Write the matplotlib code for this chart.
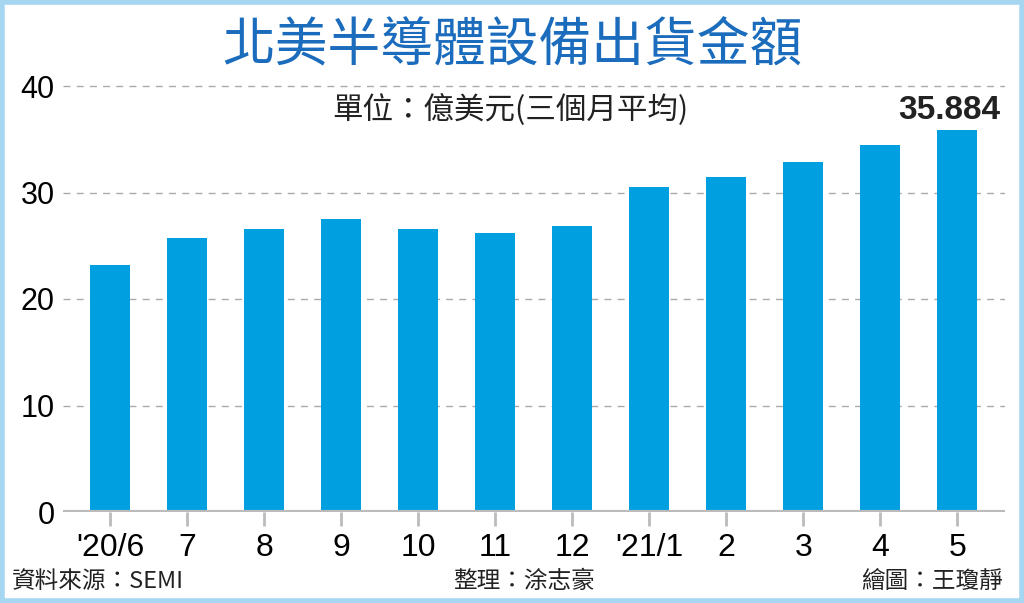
import matplotlib.pyplot as plt
from matplotlib.patches import Rectangle

# 資料
months = ["'20/6", "7", "8", "9", "10", "11", "12", "'21/1", "2", "3", "4", "5"]
values = [23.2, 25.7, 26.6, 27.5, 26.6, 26.2, 26.9, 30.5, 31.5, 32.9, 34.5, 35.884]
yticks = [0, 10, 20, 30, 40]

cjk = ['Noto Sans CJK TC', 'DejaVu Sans']
latin = ['Liberation Sans', 'DejaVu Sans']

bar_color = '#00a0e0'
title_color = '#1b6cbc'

fig = plt.figure(figsize=(10.24, 6.03), dpi=100)
fig.patch.set_facecolor('white')
ax = fig.add_axes([63 / 1024, 1 - 512 / 603, (1005 - 63) / 1024, (512 - 75.35) / 603])

x = list(range(len(months)))
ax.bar(x, values, width=0.52, color=bar_color, zorder=3)
ax.set_xlim(-0.61, 11.62)
ax.set_ylim(0, 41)

for s in ax.spines.values():
    s.set_visible(False)
ax.axhline(0, color='#bbbbbb', lw=3, zorder=4)
for y in yticks[1:]:
    ax.axhline(y, color='#aaaaaa', lw=1, ls=(0, (5, 4.5)), zorder=1)

ax.set_yticks(yticks)
ax.set_yticklabels([str(v) for v in yticks], family=latin, fontsize=22)
ax.tick_params(axis='y', length=0, pad=6)
ax.set_xticks(x)
ax.set_xticklabels(months, family=latin, fontsize=23)
ax.tick_params(axis='x', length=10, width=2, color='#bbbbbb', pad=5)

# 最後一筆數值
ax.annotate(f"{values[-1]:.3f}", (x[-1], values[-1]), xytext=(-6, 7.5),
            textcoords='offset points', ha='center', va='baseline',
            fontsize=24, fontweight='bold', family=latin, color='#222222')

# 標題與註解
fig.text(0.5, 1 - 45 / 603, '北美半導體設備出貨金額', ha='center', va='center',
         fontsize=38, fontweight='medium', color=title_color, family=cjk)
fig.text(510 / 1024, 1 - 110 / 603, '單位：億美元(三個月平均)', ha='center', va='center',
         fontsize=22, color='#222222', family=cjk)
fig.text(12 / 1024, 1 - 581 / 603, '資料來源：SEMI', ha='left', va='center',
         fontsize=17, color='#222222', family=cjk)
fig.text(524 / 1024, 1 - 581 / 603, '整理：涂志豪', ha='center', va='center',
         fontsize=17, color='#222222', family=cjk)
fig.text(1003 / 1024, 1 - 581 / 603, '繪圖：王瓊靜', ha='right', va='center',
         fontsize=17, color='#222222', family=cjk)

# 外框
fig.patches.append(Rectangle((0.002, 0.003), 0.996, 0.994, transform=fig.transFigure,
                             fill=False, edgecolor='#a6d6f2', lw=4))

fig.savefig('out.png', dpi=100)
